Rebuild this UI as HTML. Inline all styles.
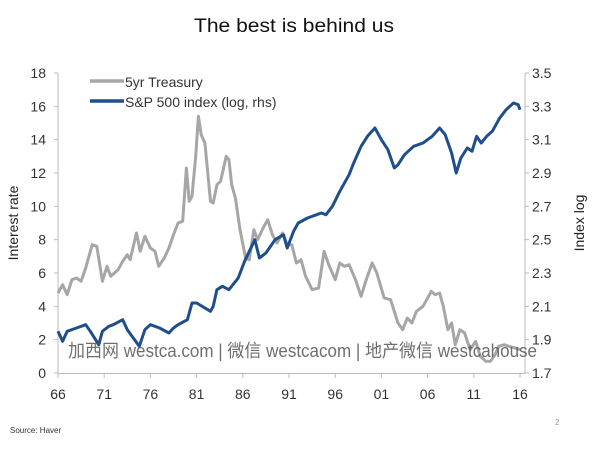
<!DOCTYPE html>
<html><head><meta charset="utf-8"><style>
body{margin:0;background:#fff;width:604px;height:450px;overflow:hidden;font-family:"Liberation Sans","Noto Sans CJK SC",sans-serif}
</style></head><body>
<svg id="s" width="604" height="450" xmlns="http://www.w3.org/2000/svg" font-family="Liberation Sans, Noto Sans CJK SC, sans-serif">
<text x="294" y="32" font-size="19" text-anchor="middle" fill="#111" textLength="200" lengthAdjust="spacingAndGlyphs">The best is behind us</text>
<g stroke="#bbb" stroke-width="1" fill="none">
<line x1="58" y1="73" x2="58" y2="374"/>
<line x1="58" y1="373.5" x2="525" y2="373.5"/>
<line x1="525" y1="73" x2="525" y2="374"/>
</g>
<g id="ticks"></g>
<g font-size="14" fill="#333" id="lab"></g>
<text transform="translate(18,223) rotate(-90)" font-size="14" text-anchor="middle" fill="#222">Interest rate</text>
<text transform="translate(584,223) rotate(-90)" font-size="14" text-anchor="middle" fill="#222">Index log</text>
<line x1="90" y1="81" x2="124" y2="81" stroke="#a6a6a6" stroke-width="3.5"/>
<text x="125" y="87" font-size="14" fill="#333">5yr Treasury</text>
<line x1="90" y1="101" x2="124" y2="101" stroke="#1f4e8c" stroke-width="3.5"/>
<text x="125" y="107" font-size="14" fill="#333">S&amp;P 500 index (log, rhs)</text>
<polyline id="t" fill="none" stroke="#a6a6a6" stroke-width="3" stroke-linejoin="round"/>
<polyline id="p" fill="none" stroke="#1f4e8c" stroke-width="3" stroke-linejoin="round"/>
<text x="68" y="357" font-size="18" fill="#555" opacity="0.85" textLength="469" lengthAdjust="spacingAndGlyphs">加西网 westca.com | 微信 westcacom | 地产微信 westcahouse</text>
<text x="10" y="433" font-size="8" fill="#333">Source: Haver</text>
<text x="555" y="425" font-size="8" fill="#999">2</text>
</svg>
<script>
var X=function(y){return 58+(y-1966)*9.24},YT=function(v){return 373-v*16.667},YP=function(v){return 373-(v-1.7)*166.67};
var t=[66,4.8,66.5,5.3,67,4.7,67.5,5.6,68,5.7,68.5,5.5,69,6.3,69.7,7.7,70.2,7.6,70.8,5.5,71.3,6.4,71.7,5.8,72.5,6.2,73,6.7,73.5,7.1,73.8,6.8,74.5,8.4,74.9,7.3,75.4,8.2,76,7.5,76.5,7.3,76.9,6.4,77.5,6.9,78,7.5,78.5,8.3,79,9.0,79.5,9.1,79.9,12.3,80.2,10.3,80.5,10.6,80.9,13.0,81.2,15.4,81.5,14.3,81.9,13.8,82.5,10.3,82.8,10.2,83.2,11.3,83.6,11.5,84.2,13.0,84.5,12.8,84.8,11.3,85.2,10.5,85.7,8.6,86.3,6.9,86.7,6.8,87.2,8.6,87.6,8.0,88.2,8.7,88.7,9.2,89.2,8.3,89.7,7.8,90.3,8.4,90.8,7.7,91.3,7.7,91.8,6.6,92.3,6.8,92.8,5.8,93.5,5.0,94.2,5.1,94.8,7.3,95.3,6.5,96,5.6,96.5,6.6,97,6.4,97.5,6.5,98.2,5.6,98.8,4.6,99.3,5.5,100,6.6,100.5,6.0,101.3,4.5,102,4.4,102.8,3.0,103.3,2.6,103.8,3.3,104.3,3.0,104.8,3.7,105.5,4.0,106.4,4.9,106.8,4.7,107.3,4.8,107.7,4.0,108.2,2.6,108.6,3.0,109,1.7,109.5,2.6,110,2.4,110.6,1.4,111.2,1.9,111.7,1.0,112.3,0.7,112.8,0.7,113.3,1.1,113.7,1.6,114.3,1.7,114.8,1.6,115.5,1.5,116,1.4];
var p=[66,1.95,66.5,1.89,67,1.95,68,1.97,69,1.99,69.5,1.95,70.4,1.87,70.8,1.95,71.5,1.98,72,1.99,73,2.02,73.5,1.96,74.8,1.86,75.4,1.96,76,1.99,77,1.97,78,1.94,78.5,1.97,79,1.99,80,2.02,80.5,2.12,81,2.12,82.5,2.07,82.8,2.1,83.2,2.2,83.8,2.22,84.5,2.2,85.5,2.27,86.2,2.37,87.3,2.5,87.8,2.39,88.5,2.42,89.5,2.5,90.4,2.53,90.8,2.45,91.5,2.55,92,2.6,93,2.63,94,2.65,94.5,2.66,95,2.65,95.7,2.7,96.5,2.79,97.5,2.89,98,2.96,98.8,3.06,99.5,3.12,100.3,3.17,101,3.1,101.7,3.04,102.4,2.93,102.8,2.95,103.5,3.01,104.5,3.06,105.5,3.08,106.5,3.12,107.3,3.17,107.9,3.13,108.6,3.02,109.1,2.9,109.6,2.99,110.3,3.05,110.8,3.03,111.3,3.12,111.8,3.08,112.4,3.12,113,3.15,113.8,3.23,114.5,3.28,115.3,3.32,115.8,3.31,116,3.28];
function pts(a,f){var s=[];for(var i=0;i<a.length;i+=2)s.push(X(1900+a[i]).toFixed(1)+","+f(a[i+1]).toFixed(1));return s.join(" ")}
document.getElementById('t').setAttribute('points',pts(t,YT));
document.getElementById('p').setAttribute('points',pts(p,YP));
var L='',T='';
for(var v=0;v<=18;v+=2){var y=YT(v);L+='<text x="46" y="'+(y+5)+'" text-anchor="end">'+v+'</text>';T+='<line x1="54" x2="58" y1="'+y+'" y2="'+y+'" stroke="#bbb"/>';}
for(var k=0;k<=9;k++){var v2=1.7+k*0.2,y2=YP(v2);L+='<text x="532" y="'+(y2+5)+'">'+v2.toFixed(1)+'</text>';T+='<line x1="525" x2="529" y1="'+y2+'" y2="'+y2+'" stroke="#bbb"/>';}
var yl=['66','71','76','81','86','91','96','01','06','11','16'];
for(var j=0;j<11;j++){var x=X(1966+5*j);L+='<text x="'+x+'" y="399" text-anchor="middle">'+yl[j]+'</text>';T+='<line x1="'+x+'" x2="'+x+'" y1="373" y2="378" stroke="#bbb"/>';}
document.getElementById('lab').innerHTML=L;document.getElementById('ticks').innerHTML=T;
</script>
</body></html>
